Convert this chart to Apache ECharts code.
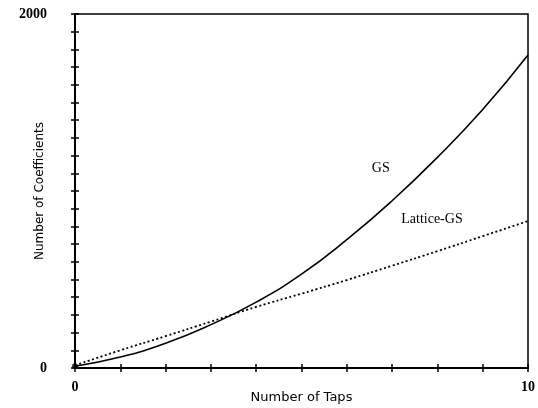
<!DOCTYPE html>
<html>
<head>
<meta charset="utf-8">
<script src="https://cdn.jsdelivr.net/npm/echarts@6/dist/echarts.min.js"></script>
<style>html,body{margin:0;padding:0;background:#fff;}#c{width:538px;height:408px;}</style>
</head>
<body>
<div id="c"></div>
<script>
var taps = [0, 1, 2, 3, 4, 5, 6, 7, 8, 9, 10];
var gsValues = [10, 62, 140, 245, 372, 530, 725, 945, 1190, 1460, 1768];
var latticeValues = [15, 100, 180, 262, 345, 420, 497, 578, 660, 745, 830];
var xTickLabels = {0: '0', 10: '10'};
var yTickLabels = {0: '0', 2000: '2000'};
var gsLabel = {text: 'GS', x: 6.75, y: 1130};
var latticeLabel = {text: 'Lattice-GS', x: 7.88, y: 840};

var chart = echarts.init(document.getElementById('c'), null, {renderer: 'canvas'});
function pairs(xs, ys) { return xs.map(function (x, i) { return [x, ys[i]]; }); }
var serif = 'Liberation Serif';
var sans = 'DejaVu Sans';

var baseX = {
  type: 'value', min: 0, max: 10, interval: 1, gridIndex: 0, position: 'bottom',
  splitLine: {show: false}
};
var baseY = {
  type: 'value', min: 0, max: 2000, interval: 100, gridIndex: 0, position: 'left',
  splitLine: {show: false}
};

chart.setOption({
  animation: false,
  backgroundColor: '#fff',
  grid: {left: 75, right: 10, top: 14, bottom: 40, show: true, borderColor: '#000', borderWidth: 1.5,
    containLabel: false, outerBoundsMode: 'none'},
  xAxis: [
    Object.assign({}, baseX, {
      name: 'Number of Taps', nameLocation: 'middle', nameGap: 23, nameMoveOverlap: false,
      nameTextStyle: {fontFamily: sans, fontSize: 13, color: '#000'},
      axisLine: {show: true, lineStyle: {color: '#000', width: 2}},
      axisTick: {show: true, inside: false, length: 4, lineStyle: {color: '#000', width: 1.5}},
      axisLabel: {show: true, margin: 12, fontFamily: serif, fontSize: 14, fontWeight: 'bold', color: '#000',
        formatter: function (v) { return xTickLabels[v] !== undefined ? xTickLabels[v] : ''; }}
    }),
    Object.assign({}, baseX, {
      axisLine: {show: false},
      axisTick: {show: true, inside: true, length: 4, lineStyle: {color: '#000', width: 1.5}},
      axisLabel: {show: false}
    })
  ],
  yAxis: [
    Object.assign({}, baseY, {
      name: 'Number of Coefficients', nameLocation: 'middle', nameGap: 29, nameRotate: 90, nameMoveOverlap: false,
      nameTextStyle: {fontFamily: sans, fontSize: 12, color: '#000'},
      axisLine: {show: true, lineStyle: {color: '#000', width: 2}},
      axisTick: {show: true, inside: false, length: 4, lineStyle: {color: '#000', width: 1.5}},
      axisLabel: {show: true, margin: 28, fontFamily: serif, fontSize: 14, fontWeight: 'bold', color: '#000',
        formatter: function (v) { return yTickLabels[v] !== undefined ? yTickLabels[v] : ''; }}
    }),
    Object.assign({}, baseY, {
      axisLine: {show: false},
      axisTick: {show: true, inside: true, length: 4, lineStyle: {color: '#000', width: 1.5}},
      axisLabel: {show: false}
    })
  ],
  series: [
    {
      name: 'GS', type: 'line', xAxisIndex: 0, yAxisIndex: 0, smooth: true, symbol: 'none',
      data: pairs(taps, gsValues),
      lineStyle: {color: '#000', width: 1.6, type: 'solid'},
      markPoint: {
        symbol: 'circle', symbolSize: 0, silent: true,
        label: {show: true, position: 'inside', color: '#000', fontFamily: serif, fontSize: 14, formatter: '{b}'},
        data: [{name: gsLabel.text, coord: [gsLabel.x, gsLabel.y]}]
      }
    },
    {
      name: 'Lattice-GS', type: 'line', xAxisIndex: 0, yAxisIndex: 0, smooth: true, symbol: 'none',
      data: pairs(taps, latticeValues),
      lineStyle: {color: '#000', width: 1.8, type: [2, 2.5]},
      markPoint: {
        symbol: 'circle', symbolSize: 0, silent: true,
        label: {show: true, position: 'inside', color: '#000', fontFamily: serif, fontSize: 14, formatter: '{b}'},
        data: [{name: latticeLabel.text, coord: [latticeLabel.x, latticeLabel.y]}]
      }
    },
    {
      name: 'origin', type: 'scatter', xAxisIndex: 0, yAxisIndex: 0, symbolSize: 6,
      itemStyle: {color: '#000'}, data: [[taps[0], gsValues[0]]], silent: true
    }
  ]
});
</script>
</body>
</html>
